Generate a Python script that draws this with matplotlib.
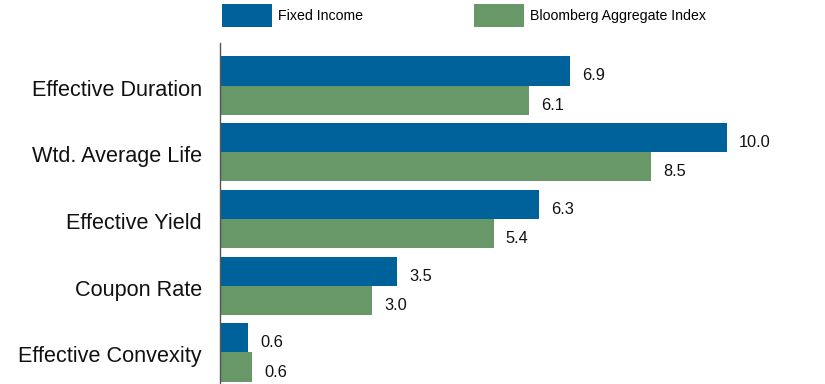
import numpy as np
import matplotlib.pyplot as plt
import matplotlib.transforms as mtransforms

categories = ['Effective Duration', 'Wtd. Average Life', 'Effective Yield',
              'Coupon Rate', 'Effective Convexity']
fixed_income = [6.9, 10.0, 6.3, 3.5, 0.55]
bloomberg = [6.1, 8.5, 5.4, 3.0, 0.63]
fixed_labels = ['6.9', '10.0', '6.3', '3.5', '0.6']
bloomberg_labels = ['6.1', '8.5', '5.4', '3.0', '0.6']
series_names = ['Fixed Income', 'Bloomberg Aggregate Index']

blue = '#00629b'
green = '#689868'

plt.rcParams['font.family'] = ['Liberation Sans', 'DejaVu Sans']

fig = plt.figure(figsize=(8.25, 3.84), dpi=100)
# axes: left spine at x=220px, top at y=43px, runs to bottom edge
ax = fig.add_axes([220/825, 0, 605/825, (384-43)/384])

y = np.arange(len(categories))
h = 0.435
b1 = ax.barh(y - h/2, fixed_income, height=h, color=blue, label=series_names[0])
b2 = ax.barh(y + h/2, bloomberg, height=h, color=green, label=series_names[1])

for bars, labs in ((b1, fixed_labels), (b2, bloomberg_labels)):
    for bar, lab in zip(bars, labs):
        ax.annotate(lab, (bar.get_width(), bar.get_y() + bar.get_height()/2),
                    xytext=(12, -5), textcoords='offset pixels',
                    va='center', ha='left', fontsize=11.8, color='#111111')

ax.set_xlim(0, 605/50.7)
ax.set_ylim(4.472, -0.637)
ax.set_yticks(y)
ax.set_yticklabels(categories, fontsize=15.6, color='#111111')
ax.tick_params(axis='y', length=0, pad=13)
shift = mtransforms.ScaledTranslation(0, -2/100, fig.dpi_scale_trans)
for t in ax.get_yticklabels():
    t.set_transform(t.get_transform() + shift)
ax.set_xticks([])
for s in ['top', 'right', 'bottom']:
    ax.spines[s].set_visible(False)
ax.spines['left'].set_color('#555555')
ax.spines['left'].set_linewidth(1.0)

fig.legend(handles=[b1, b2], labels=series_names, loc='upper left',
           bbox_to_anchor=(222/825, 1 - 4/384), ncol=2, frameon=False,
           borderpad=0, borderaxespad=0, fontsize=10.2,
           handlelength=3.5, handleheight=2.15, handletextpad=0.42,
           columnspacing=7.9)

fig.savefig('out.png', dpi=100)
